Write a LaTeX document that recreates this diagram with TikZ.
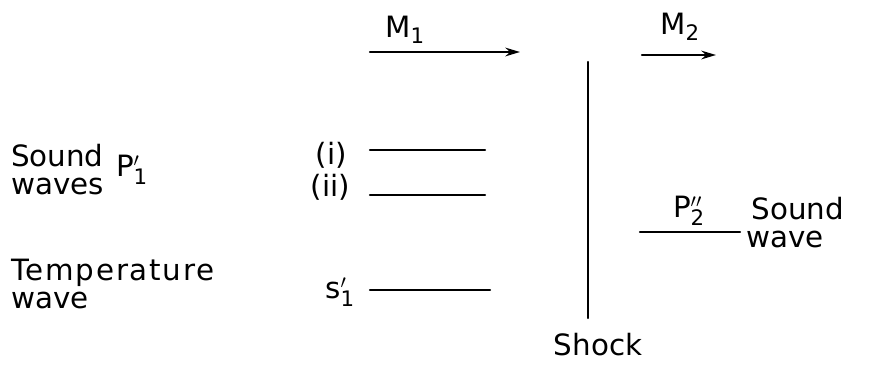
\documentclass[tikz,border=0pt]{standalone}
\usepackage{fontspec}
\setmainfont{DejaVu Sans}
\usetikzlibrary{arrows.meta}
\newcommand\wvar[3]{#1$^{#2}_{\hbox{\fontsize{16}{16}\selectfont #3}}$}
\begin{document}
\begin{tikzpicture}[line width=1.7pt, line cap=round, >={Stealth[length=11pt,width=6.5pt]}, x=0.75pt, y=-0.75pt,
  font=\fontsize{22}{21}\selectfont]
  \useasboundingbox (0,0) rectangle (888,367);
  \tikzset{lbl/.style={inner sep=0pt, align=left}}
  % flow arrows either side of the shock
  \coordinate (M1a) at (370,52);
  \coordinate (M1b) at (520,52);
  \coordinate (M2a) at (642,55);
  \coordinate (M2b) at (716,55);
  \draw[->] (M1a) -- (M1b);
  \draw[->] (M2a) -- (M2b);
  \node[lbl] (M1) at (405,30) {M$_{\hbox{\fontsize{16}{16}\selectfont 1}}$};
  \node[lbl] (M2) at (680,27) {M$_{\hbox{\fontsize{16}{16}\selectfont 2}}$};
  % shock
  \coordinate (Sa) at (588,62);
  \coordinate (Sb) at (588,318);
  \draw (Sa) -- (Sb);
  \node[lbl] (shock) at (598,345) {Shock};
  % upstream waves
  \node[lbl, anchor=west] (sound1) at (10,170) {Sound\\waves};
  \node[lbl] (p1) at (132,170) {\wvar{P}{\prime}{1}};
  \node[lbl, anchor=east] (ci) at (348,155) {(i)};
  \node[lbl, anchor=east] (cii) at (351,187) {(ii)};
  \coordinate (ia) at (370,150);
  \coordinate (ib) at (485,150);
  \coordinate (iia) at (370,195);
  \coordinate (iib) at (485,195);
  \draw (ia) -- (ib);
  \draw (iia) -- (iib);
  \node[lbl, anchor=west] (temp) at (10,284)
    {{\addfontfeature{LetterSpace=6}Temperature}\\wave};
  \node[lbl] (s1) at (340,292) {\wvar{s}{\prime}{1}};
  \coordinate (sa) at (370,290);
  \coordinate (sb) at (490,290);
  \draw (sa) -- (sb);
  % downstream wave
  \node[lbl] (p2) at (689,211) {\wvar{P}{\prime\prime}{2}};
  \coordinate (pa) at (640,232);
  \coordinate (pb) at (740,232);
  \draw (pa) -- (pb);
  \node[lbl, anchor=west] (sound2) at (745,223) {\hspace*{4pt}Sound\\wave};
\end{tikzpicture}
\end{document}
